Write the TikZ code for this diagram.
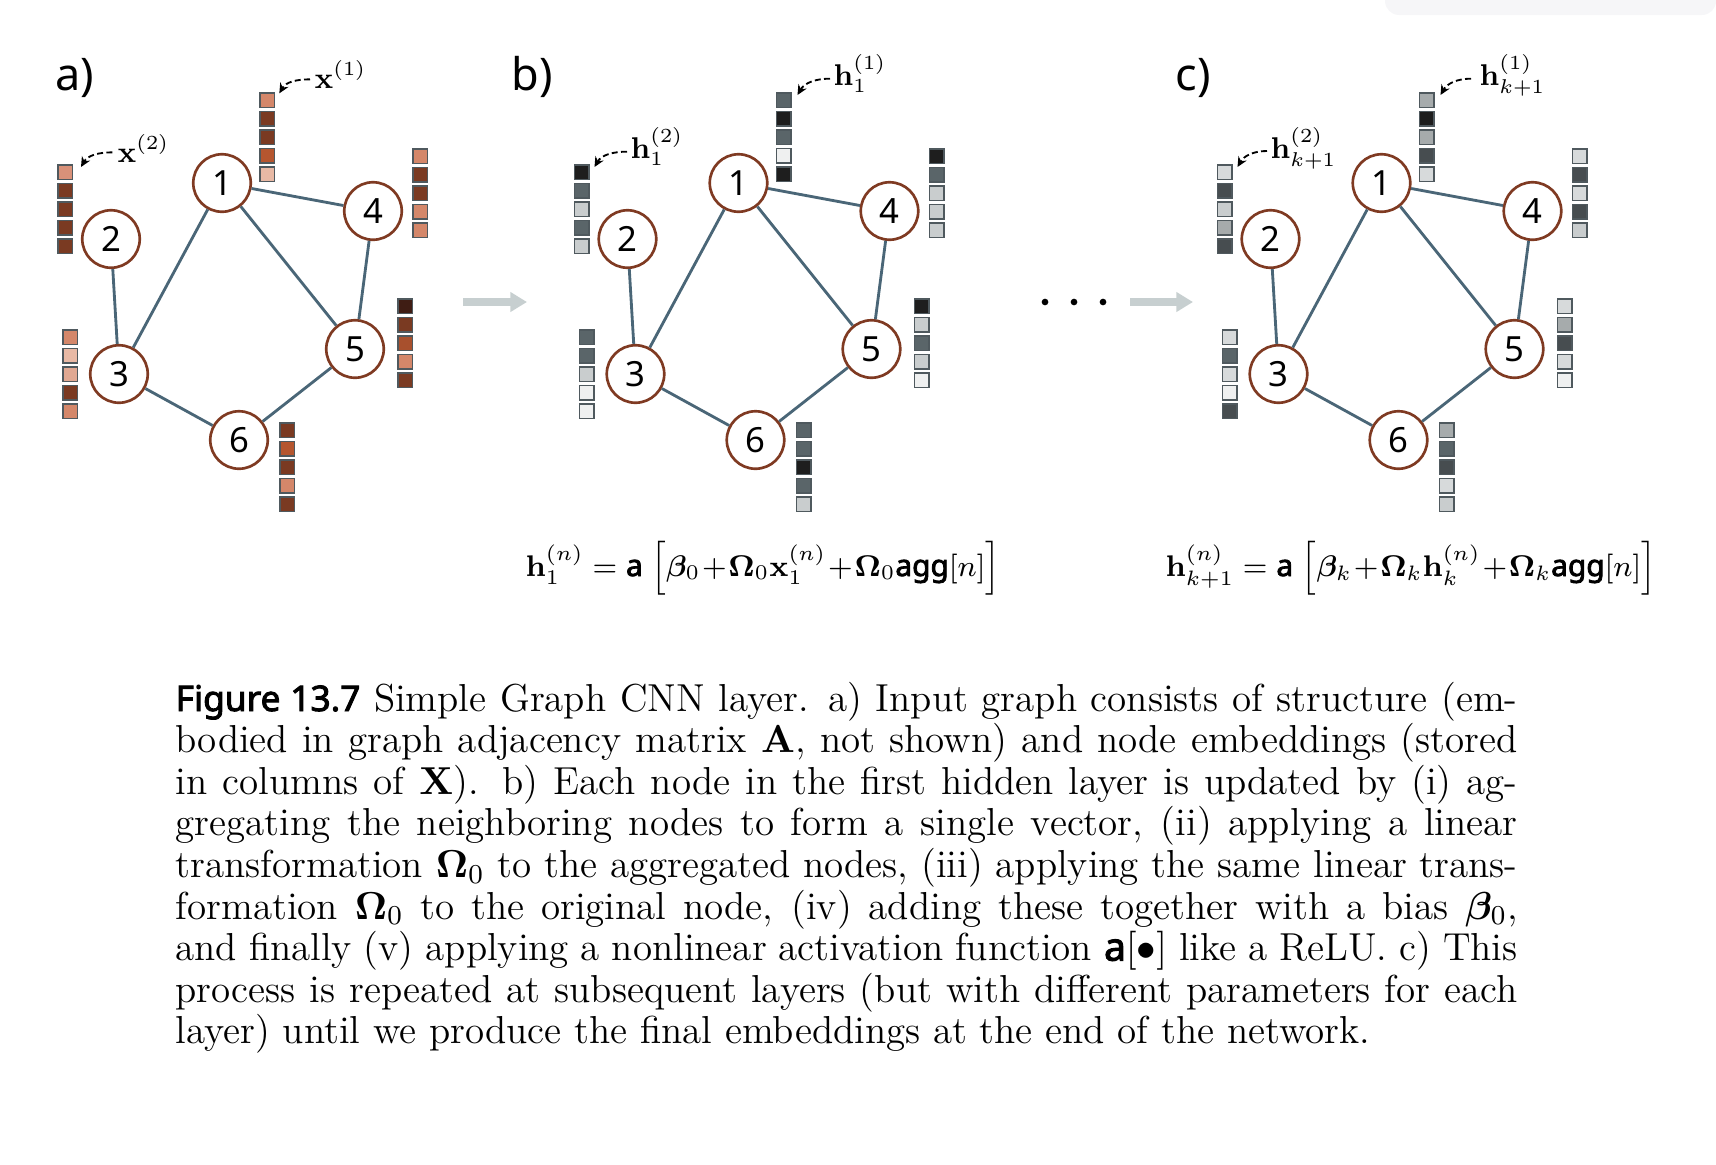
\RequirePackage{fix-cm}
\documentclass[tikz,border=0pt]{standalone}
\usepackage{amsmath,bm}
\usepackage[no-math]{fontspec}
\newfontfamily\lblfont{Noto Sans}
\newfontfamily\lblbold{Noto Sans}[FakeBold=2.6]
\usetikzlibrary{arrows.meta}

\definecolor{nodebrown}{HTML}{7F3A22}
\definecolor{edgecol}{HTML}{4A6677}
\definecolor{sqborder}{HTML}{4F595E}
\definecolor{arrgray}{HTML}{C7CFD0}
\definecolor{topgray}{HTML}{F6F6F8}
\definecolor{bL}{HTML}{E8B9A5}
\definecolor{bP}{HTML}{E0A892}
\definecolor{bO}{HTML}{D4876A}
\definecolor{bOt}{HTML}{D99179}
\definecolor{bR}{HTML}{B5562F}
\definecolor{bRt}{HTML}{A8502D}
\definecolor{bD}{HTML}{7A3A22}
\definecolor{bK}{HTML}{3F1D14}
\definecolor{gW}{HTML}{EFF0F0}
\definecolor{gL}{HTML}{C9CDCE}
\definecolor{gLt}{HTML}{D7DADB}
\definecolor{gM}{HTML}{A6ABAC}
\definecolor{gS}{HTML}{5A6569}
\definecolor{gD}{HTML}{474D50}
\definecolor{gK}{HTML}{1E1E1E}

\newcommand\sfb[1]{\text{\lblbold #1}}

\tikzset{
  gn/.style={circle, draw=nodebrown, line width=0.8pt, fill=white, minimum size=17.25pt,
    inner sep=0pt, font=\lblfont\fontsize{10.4}{12}\selectfont},
  edge/.style={draw=edgecol, line width=0.85pt},
  sq/.style={draw=sqborder, line width=0.45pt, minimum size=4.35pt, inner sep=0pt},
  lab/.style={inner sep=0pt, anchor=base west, font=\fontsize{9}{11}\selectfont},
  dasharr/.style={line width=0.55pt, dash pattern=on 1.8pt off 1.0pt,
    -{Stealth[length=3pt,width=2.8pt]}},
  panellab/.style={inner sep=0pt, anchor=base west, font=\lblfont\fontsize{13.5}{16}\selectfont},
  grayarr/.style={draw=arrgray, line width=2.3pt, -{Triangle[length=5pt,width=5.7pt]}},
  eqn/.style={inner sep=0pt, anchor=base west, font=\fontsize{8.95}{11}\selectfont},
  captxt/.style={inner sep=0pt, anchor=base west, font=\fontsize{11.7}{12.5}\selectfont},
}

\newcommand\gpanel[1]{%
  \node[gn] (#1-1) at (222,183) {1};
  \node[gn] (#1-2) at (111,239) {2};
  \node[gn] (#1-3) at (119,374) {3};
  \node[gn] (#1-4) at (373,211) {4};
  \node[gn] (#1-5) at (355,349) {5};
  \node[gn] (#1-6) at (239,440) {6};
  \draw[edge] (#1-1) -- (#1-4);
  \draw[edge] (#1-1) -- (#1-3);
  \draw[edge] (#1-1) -- (#1-5);
  \draw[edge] (#1-2) -- (#1-3);
  \draw[edge] (#1-4) -- (#1-5);
  \draw[edge] (#1-3) -- (#1-6);
  \draw[edge] (#1-6) -- (#1-5);
}

\newcommand\embvec[4]{%
  \foreach \col [count=\i] in {#4} {%
    \node[sq, fill=\col] (#1-\i) at ({#2+8},{#3+8+18.5*(\i-1)}) {};
  }%
}

\newcommand\capline[2]{%
  \node[captxt] (cap#1) at (175,{711+41.6*(#1-1)}) {\makebox[402.6pt][s]{#2}};
}

\begin{document}
\begin{tikzpicture}[x=0.3pt,y=-0.3pt]
\useasboundingbox (0,0) rectangle (1716,1164);
\fill[topgray] (1716,0) -- (1385,0) {[rounded corners=4.2pt] -- (1385,15) -- (1716,15)} -- cycle;

% panel a
\node[panellab] (la) at (55,90) {a)};
\begin{scope}
  \gpanel{a}
  \embvec{av1}{259}{92}{bO,bD,bD,bR,bL}
  \embvec{av2}{57}{164}{bOt,bD,bD,bD,bD}
  \embvec{av3}{62}{329}{bO,bL,bP,bD,bO}
  \embvec{av4}{412}{148}{bO,bD,bD,bO,bO}
  \embvec{av5}{397}{298}{bK,bD,bRt,bO,bD}
  \embvec{av6}{279}{422}{bD,bR,bD,bO,bD}
  \node[lab] (ax1) at (314,88) {$\mathbf{x}^{(1)}$};
  \node[lab] (ax2) at (117,162) {$\mathbf{x}^{(2)}$};
  \draw[dasharr] ([shift={(-1.2pt,2.6pt)}]ax1.base west) to[out=180,in=60] ([shift={(1.3pt,-0.4pt)}]av1-1.north east);
  \draw[dasharr] ([shift={(-1.4pt,2.9pt)}]ax2.base west) to[out=180,in=60] ([shift={(2.4pt,-0.9pt)}]av2-1.north east);
\end{scope}

% arrow a -> b
\coordinate (arA1) at (463,302);
\coordinate (arA2) at (527,302);
\draw[grayarr] (arA1) -- (arA2);

% panel b
\node[panellab] (lb) at (511,90) {b)};
\begin{scope}[shift={(516.5,0)}]
  \gpanel{b}
  \embvec{bv1}{259}{92}{gS,gK,gS,gW,gK}
  \embvec{bv2}{57}{164}{gK,gS,gL,gS,gL}
  \embvec{bv3}{62}{329}{gS,gS,gL,gW,gW}
  \embvec{bv4}{412}{148}{gK,gS,gL,gL,gL}
  \embvec{bv5}{397}{298}{gK,gL,gS,gL,gW}
  \embvec{bv6}{279}{422}{gS,gS,gK,gS,gL}
  \node[lab] (bh1) at (316.5,85) {$\mathbf{h}_1^{(1)}$};
  \node[lab] (bh2) at (113.5,158) {$\mathbf{h}_1^{(2)}$};
  \draw[dasharr] ([shift={(-0.9pt,1.9pt)}]bh1.base west) to[out=180,in=60] ([shift={(1.8pt,-0.9pt)}]bv1-1.north east);
  \draw[dasharr] ([shift={(-0.9pt,1.9pt)}]bh2.base west) to[out=180,in=60] ([shift={(1.5pt,-0.9pt)}]bv2-1.north east);
\end{scope}

% dots and arrow b -> c
\node[circle, fill=black, inner sep=0pt, minimum size=2pt] (d1) at (1045,302) {};
\node[circle, fill=black, inner sep=0pt, minimum size=2pt] (d2) at (1074,302) {};
\node[circle, fill=black, inner sep=0pt, minimum size=2pt] (d3) at (1103,302) {};
\coordinate (arB1) at (1130,302);
\coordinate (arB2) at (1193,302);
\draw[grayarr] (arB1) -- (arB2);

% panel c
\node[panellab] (lc) at (1175,90) {c)};
\begin{scope}[shift={(1159.5,0)}]
  \gpanel{c}
  \embvec{cv1}{259}{92}{gM,gK,gM,gD,gLt}
  \embvec{cv2}{57}{164}{gLt,gD,gL,gM,gD}
  \embvec{cv3}{62}{329}{gLt,gS,gLt,gW,gD}
  \embvec{cv4}{412}{148}{gLt,gD,gLt,gD,gL}
  \embvec{cv5}{397}{298}{gLt,gM,gD,gLt,gW}
  \embvec{cv6}{279}{422}{gM,gS,gD,gLt,gL}
  \node[lab] (ch1) at (319.5,85) {$\mathbf{h}_{k+1}^{(1)}$};
  \node[lab] (ch2) at (110.5,158) {$\mathbf{h}_{k+1}^{(2)}$};
  \draw[dasharr] ([shift={(-2.4pt,1.9pt)}]ch1.base west) to[out=180,in=60] ([shift={(1.8pt,-0.9pt)}]cv1-1.north east);
  \draw[dasharr] ([shift={(-0.9pt,2.1pt)}]ch2.base west) to[out=180,in=60] ([shift={(1.5pt,-0.9pt)}]cv2-1.north east);
\end{scope}

% equations
\node[eqn] (eq1) at (525,576) {\medmuskip=1mu $\mathbf{h}_1^{(n)} = \sfb{a}\;\Big[\bm{\beta}_0+\mathbf{\Omega}_0\mathbf{x}_1^{(n)}+\mathbf{\Omega}_0\sfb{agg}[n]\Big]$};
\node[eqn] (eq2) at (1165,576) {\medmuskip=1mu $\mathbf{h}_{k+1}^{(n)} = \sfb{a}\;\Big[\bm{\beta}_k+\mathbf{\Omega}_k\mathbf{h}_k^{(n)}+\mathbf{\Omega}_k\sfb{agg}[n]\Big]$};

% caption
\capline{1}{{\lblbold\fontsize{10.6}{12}\selectfont Figure 13.7} Simple Graph CNN layer. a) Input graph consists of structure (em-}
\capline{2}{bodied in graph adjacency matrix $\mathbf{A}$, not shown) and node embeddings (stored}
\capline{3}{in columns of $\mathbf{X}$). b) Each node in the first hidden layer is updated by (i) ag-}
\capline{4}{gregating the neighboring nodes to form a single vector, (ii) applying a linear}
\capline{5}{transformation $\mathbf{\Omega}_0$ to the aggregated nodes, (iii) applying the same linear trans-}
\capline{6}{formation $\mathbf{\Omega}_0$ to the original node, (iv) adding these together with a bias $\bm{\beta}_0$,}
\capline{7}{and finally (v) applying a nonlinear activation function $\sfb{a}[\bullet]$ like a ReLU. c) This}
\capline{8}{process is repeated at subsequent layers (but with different parameters for each}
\node[captxt] (cap9) at (175,{711+41.6*8}) {layer) until we produce the final embeddings at the end of the network.};
\end{tikzpicture}
\end{document}
